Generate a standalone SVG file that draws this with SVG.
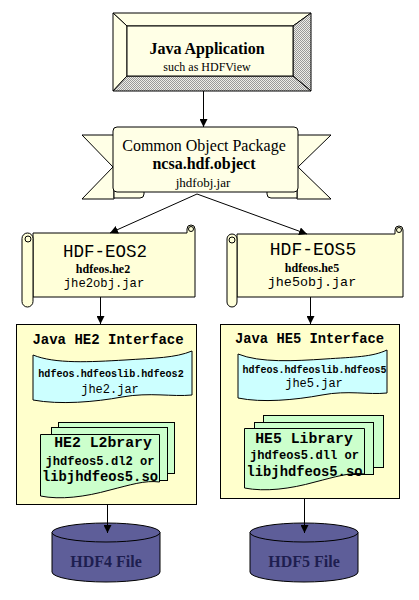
<svg xmlns="http://www.w3.org/2000/svg" width="419" height="600" viewBox="0 0 419 600">
<style>
.ln{stroke:#000;stroke-width:1;fill:none}
.sk{stroke:#000;stroke-width:1}
.cream{fill:#FFFFE6}
.scroll{fill:#FFFFD9}
.box{fill:#FFFFCC;stroke:#000;stroke-width:1}
.cyan{fill:#CCFFFF;stroke:#000;stroke-width:1}
.green{fill:#CCFFCC;stroke:#000;stroke-width:1}
.cyl{fill:#5E5E99;stroke:#000;stroke-width:1}
.serif{font-family:"Liberation Serif","Times New Roman",serif;fill:#000;text-anchor:middle}
.mono{font-family:"Liberation Mono","Courier New",monospace;fill:#000;text-anchor:middle}
.b{font-weight:bold}
.cyltxt{font-family:"Liberation Serif","Times New Roman",serif;font-weight:bold;font-size:16px;fill:#1E1E50;text-anchor:middle}
</style>
<defs>
<pattern id="hatch" width="2" height="2" patternUnits="userSpaceOnUse">
<rect width="2" height="2" fill="#EEEEE8"/>
<rect width="1" height="1" fill="#999"/>
<rect x="1" y="1" width="1" height="1" fill="#999"/>
</pattern>
<marker id="arr" viewBox="0 0 8 8" refX="8" refY="4" markerWidth="8" markerHeight="8" markerUnits="userSpaceOnUse" orient="auto">
<path d="M0,0 L8,4 L0,8 z" fill="#000"/>
</marker>
</defs>
<rect width="419" height="600" fill="#fff"/>

<g id="java-app">
<polygon class="cream sk" points="113,13 311,13 293,26 127,26"/>
<polygon class="cream sk" points="113,13 127,26 127,76 113,91"/>
<polygon fill="url(#hatch)" class="sk" points="311,13 311,91 293,76 293,26"/>
<polygon fill="url(#hatch)" class="sk" points="113,91 127,76 293,76 311,91"/>
<rect x="127" y="26" width="166" height="50" class="cream sk"/>
<text x="207" y="54" class="serif b" font-size="16">Java Application</text>
<text x="207" y="71" class="serif" font-size="12">such as HDFView</text>
</g>

<g id="common-object">
<polygon class="cream sk" points="82,135 114,135 114,199 82,199 113,167"/>
<polygon class="cream sk" points="331,135 297,135 297,199 331,199 298,167"/>
<path class="cream sk" d="M114,190 V198 H140 Q144,198 144,194 V190 Z"/>
<path class="cream sk" d="M297,190 V198 H271 Q267,198 267,194 V190 Z"/>
<rect x="113" y="127" width="185" height="65" rx="4" class="cream sk"/>
<text x="204" y="151" class="serif" font-size="16">Common Object Package</text>
<text x="204" y="169" class="serif b" font-size="16">ncsa.hdf.object</text>
<text x="203" y="187" class="serif" font-size="13">jhdfobj.jar</text>
</g>

<g id="hdf-eos2">
<path class="scroll sk" d="M33,233 H187 V229 A4,4 0 0 1 195,229 V297 H33 Z"/>
<circle cx="191" cy="229" r="2.5" class="scroll sk"/>
<rect x="22" y="233" width="11" height="74" rx="5.5" class="scroll sk"/>
<circle cx="28" cy="239" r="3" class="scroll sk"/>
<text x="105" y="257" class="mono" font-size="17.5">HDF-EOS2</text>
<text x="103" y="273" class="serif b" font-size="12">hdfeos.he2</text>
<text x="104" y="287" class="mono" font-size="12.2">jhe2obj.jar</text>
</g>

<g id="hdf-eos5">
<path class="scroll sk" d="M237,234 H395 V230 A4,4 0 0 1 403,230 V297 H237 Z"/>
<circle cx="399" cy="230" r="2.5" class="scroll sk"/>
<rect x="227" y="234" width="10" height="73" rx="5" class="scroll sk"/>
<circle cx="232" cy="240" r="3" class="scroll sk"/>
<text x="313" y="255" class="mono" font-size="18">HDF-EOS5</text>
<text x="312" y="271.5" class="serif b" font-size="12">hdfeos.he5</text>
<text x="312" y="286" class="mono" font-size="13.4">jhe5obj.jar</text>
</g>

<g id="java-he2">
<rect x="16.5" y="324.5" width="180" height="180" class="box"/>
<text x="108" y="344" class="mono b" font-size="14">Java HE2 Interface</text>
<path class="cyan" d="M33,355 C55,364 90,362 125,360 C155,358 175,358 192,351 V395 C172,397 150,392 122,397 C95,402 60,405 33,400 Z"/>
<text x="111" y="377" class="mono b" font-size="10.1">hdfeos.hdfeoslib.hdfeos2</text>
<text x="110" y="393" class="mono" font-size="12">jhe2.jar</text>
<rect x="58.5" y="422.5" width="116" height="51" class="green"/>
<rect x="51.5" y="427.5" width="116" height="53" class="green"/>
<path class="green" d="M40.5,434.5 H159.5 V482 C145,480 130,485 110,490 C85,497 60,500 40.5,496 Z"/>
<text x="103" y="447" class="mono b" font-size="14.8">HE2 L2brary</text>
<text x="100" y="465" class="mono b" font-size="12.1">jhdfeos5.dl2 or</text>
<text x="100" y="481" class="mono b" font-size="13.8">libjhdfeos5.so</text>
</g>

<g id="java-he5">
<rect x="220.5" y="324.5" width="179" height="174" class="box"/>
<text x="309.5" y="343" class="mono b" font-size="13.8">Java HE5 Interface</text>
<path class="cyan" d="M238,354 C260,363 295,361 325,359 C355,357 372,357 387,350 V393 C368,395 348,390 322,395 C295,400 262,403 238,398 Z"/>
<text x="314.5" y="373" class="mono b" font-size="10">hdfeos.hdfeoslib.hdfeos5</text>
<text x="314" y="387" class="mono" font-size="12">jhe5.jar</text>
<rect x="263.5" y="415.5" width="120" height="52" class="green"/>
<rect x="254.5" y="422.5" width="119" height="52" class="green"/>
<path class="green" d="M244.5,428.5 H364.5 V474 C350,472 335,477 315,482 C290,489 265,492 244.5,488 Z"/>
<text x="304" y="443" class="mono b" font-size="14.8">HE5 Library</text>
<text x="304.5" y="459" class="mono b" font-size="12.1">jhdfeos5.dll or</text>
<text x="304.5" y="476" class="mono b" font-size="13.8">libjhdfeos5.so</text>
</g>

<g id="hdf4-file">
<path class="cyl" d="M52,532.5 V572 A54,10 0 0 0 160,572 V532.5"/>
<ellipse cx="106" cy="532.5" rx="54" ry="9.5" class="cyl"/>
<text x="106" y="567" class="cyltxt">HDF4 File</text>
</g>

<g id="hdf5-file">
<path class="cyl" d="M250,532.5 V572 A54,10 0 0 0 358,572 V532.5"/>
<ellipse cx="304" cy="532.5" rx="54" ry="9.5" class="cyl"/>
<text x="304" y="567" class="cyltxt">HDF5 File</text>
</g>

<g id="connectors">
<line class="ln" x1="203.5" y1="91" x2="203.5" y2="127" marker-end="url(#arr)"/>
<line class="ln" x1="197" y1="194" x2="110" y2="233" marker-end="url(#arr)"/>
<line class="ln" x1="197" y1="194" x2="307" y2="234" marker-end="url(#arr)"/>
<line class="ln" x1="100.5" y1="297" x2="100.5" y2="324" marker-end="url(#arr)"/>
<line class="ln" x1="310.5" y1="297" x2="310.5" y2="324" marker-end="url(#arr)"/>
<line class="ln" x1="107.5" y1="505" x2="107.5" y2="533" marker-end="url(#arr)"/>
<line class="ln" x1="304.5" y1="499" x2="304.5" y2="533" marker-end="url(#arr)"/>
</g>
</svg>
